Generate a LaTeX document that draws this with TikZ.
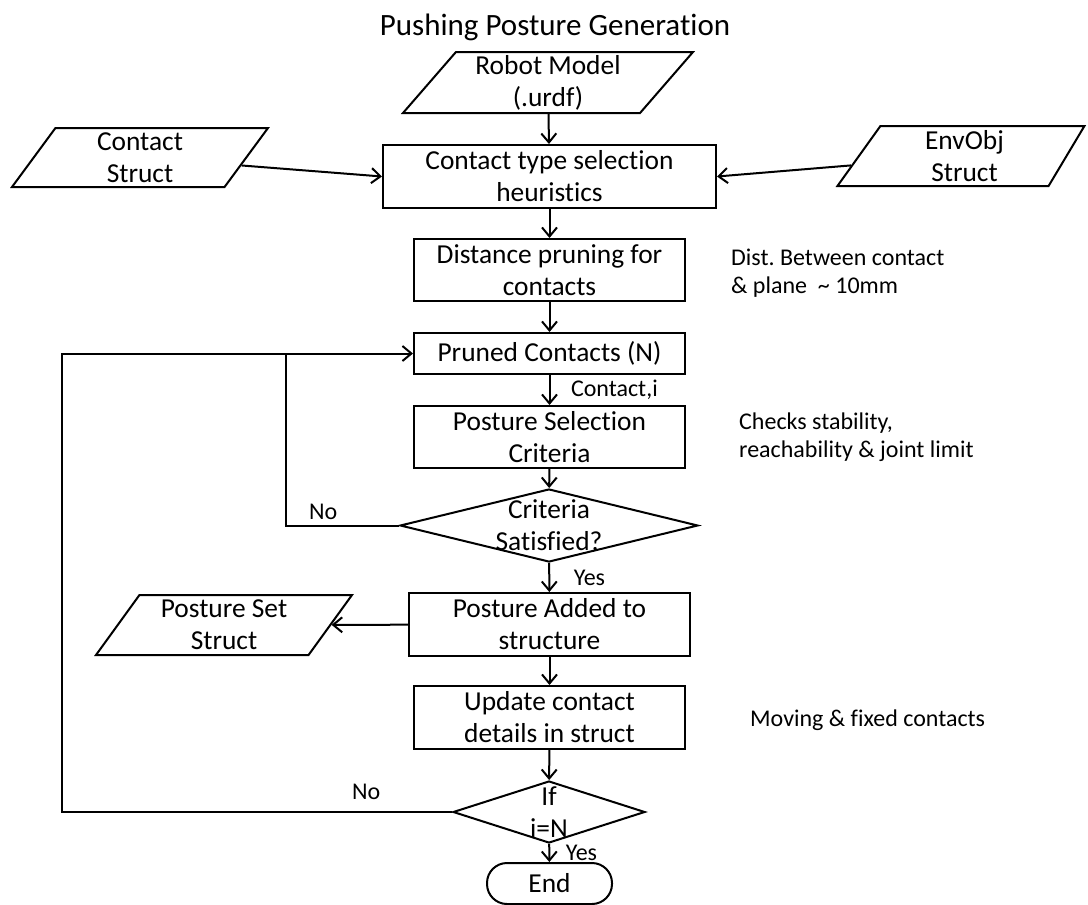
\documentclass[tikz,border=0pt]{standalone}
\usepackage{fontspec}
\setmainfont{Carlito}[Ligatures=NoCommon]
\usetikzlibrary{shapes.geometric,arrows.meta}
\frenchspacing
\newcommand\flowfont{\fontsize{27.4}{32}\selectfont}
\newcommand\notefont{\fontsize{24}{28}\selectfont}
\tikzset{
  flowbox/.style={draw,line width=2pt,align=center,inner sep=0pt,font=\flowfont},
  iobox/.style={flowbox,trapezium,trapezium stretches body,trapezium left angle=49,trapezium right angle=131},
  decide/.style={draw,diamond,line width=2pt,inner sep=0pt},
  flow/.style={line width=2pt,-{Straight Barb[length=9pt,width=15pt,line width=2pt]}},
  note/.style={align=left,anchor=north west,inner sep=0pt,font=\notefont},
  tag/.style={inner sep=1pt,font=\notefont}
}
\begin{document}
\begin{tikzpicture}[x=1pt,y=-1pt]
\useasboundingbox (0,0) rectangle (1088,905);
\node[anchor=base,inner sep=0pt,font=\fontsize{31}{36}\selectfont] (title) at (555,35) {Pushing Posture Generation};
\node[iobox,trapezium left angle=46,trapezium right angle=134,minimum width=290pt,minimum height=61pt] (robot) at (548,82.5) {Robot Model\\(.urdf)};
\node[flowbox,minimum width=333pt,minimum height=63pt] (ctype) at (549.5,176.5) {Contact type selection\\heuristics};
\node[iobox,minimum width=256pt,minimum height=59pt] (cstruct) at (140,157.5) {Contact\\Struct};
\node[iobox,trapezium left angle=50,trapezium right angle=125,minimum width=247pt,minimum height=60pt] (envobj) at (964.5,156) {EnvObj\\Struct};
\node[flowbox,minimum width=271pt,minimum height=62pt] (dprune) at (549.5,270) {Distance pruning for\\contacts};
\node[flowbox,minimum width=271pt,minimum height=41pt] (pruned) at (549.5,353.5) {Pruned Contacts (N)};
\node[flowbox,minimum width=271pt,minimum height=62pt] (psel) at (549.5,437) {Posture Selection\\Criteria};
\node[decide,minimum width=298pt,minimum height=73pt,label={[align=center,font=\flowfont]center:Criteria\\Satisfied?}] (crit) at (549,525.5) {};
\node[flowbox,minimum width=281pt,minimum height=63pt] (padded) at (549.5,624.5) {Posture Added to\\structure};
\node[iobox,minimum width=256pt,minimum height=60pt] (pset) at (224,625) {Posture Set\\Struct};
\node[flowbox,minimum width=271pt,minimum height=63pt] (update) at (549.5,717.5) {Update contact\\details in struct};
\node[decide,minimum width=192pt,minimum height=62pt,label={[align=center,font=\flowfont]center:If\\i=N}] (ifn) at (549,812) {};
\node[flowbox,rounded corners=20pt,minimum width=125pt,minimum height=41pt] (stop) at (549.5,883.5) {End};
\node[note] (distnote) at (731,249) {Dist. Between contact\\\& plane~~\textasciitilde{} 10mm};
\node[note] (checknote) at (739,413) {Checks stability,\\reachability \& joint limit};
\node[note] (movenote) at (750,710) {Moving \& fixed contacts};
\coordinate (outer) at (62,0);
\coordinate (inner) at (286,0);
\draw[flow] (robot) -- (ctype);
\draw[flow] (cstruct) -- (ctype.west);
\draw[flow] (envobj) -- (ctype.east);
\draw[flow] (ctype) -- (dprune);
\draw[flow] (dprune) -- (pruned);
\draw[flow] (pruned) -- node[tag,anchor=west,xshift=19.5pt] {Contact,i} (psel);
\draw[flow] (psel) -- (crit);
\draw[flow] (crit) -- node[tag,anchor=west,xshift=22.5pt] {Yes} (padded);
\draw[flow] (padded) -- (pset);
\draw[flow] (padded) -- (update);
\draw[flow] (update) -- (ifn);
\draw[flow] (ifn) -- node[tag,anchor=west,xshift=14.5pt] {Yes} (stop);
\draw[line width=2pt] (crit.west) -- node[tag,above=4pt,pos=.67] {No} (crit.west -| inner) -- (inner |- pruned.west);
\draw[flow] (ifn.west) -- node[tag,above=10pt,pos=.22] {No} (ifn.west -| outer) |- (pruned.west);
\end{tikzpicture}
\end{document}
